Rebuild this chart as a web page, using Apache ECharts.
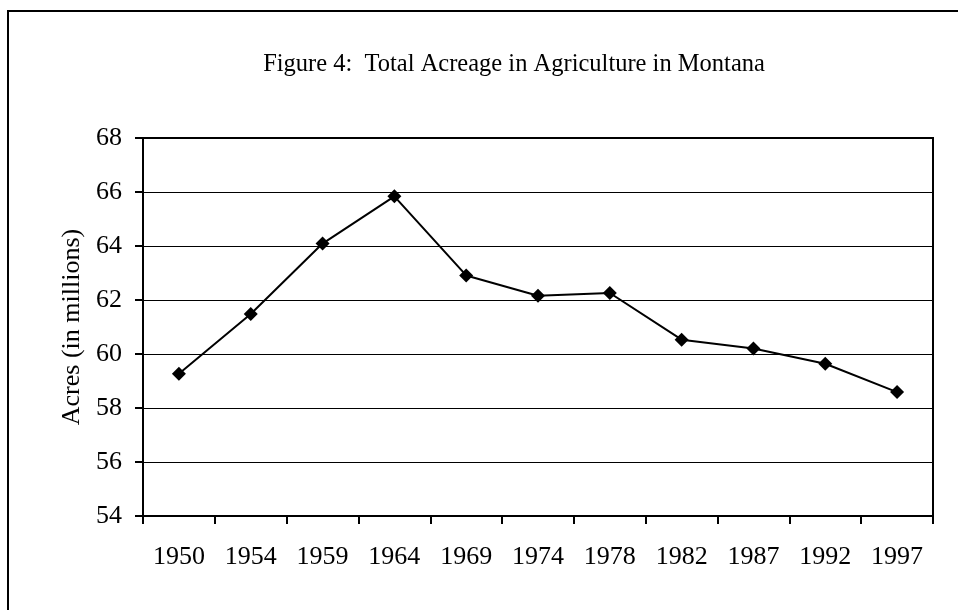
<!DOCTYPE html>
<html>
<head>
<meta charset="utf-8">
<script src="https://cdn.jsdelivr.net/npm/echarts@6/dist/echarts.min.js"></script>
<style>
  html, body { margin: 0; padding: 0; background: #fff; }
  #chart { width: 958px; height: 610px; }
</style>
</head>
<body>
<div id="chart"></div>
<script>
// Census years and farmland totals for Montana (millions of acres)
const years = ['1950', '1954', '1959', '1964', '1969', '1974', '1978', '1982', '1987', '1992', '1997'];
const acres = [59.27, 61.48, 64.09, 65.84, 62.91, 62.16, 62.26, 60.53, 60.20, 59.64, 58.59];
const yMin = 54;
const yMax = 68;
const yStep = 2;

const serif = '"Liberation Serif", "DejaVu Serif", serif';

const chart = echarts.init(document.getElementById('chart'), null, { renderer: 'canvas' });

chart.setOption({
  animation: false,
  backgroundColor: '#ffffff',
  title: {
    text: 'Figure 4:  Total Acreage in Agriculture in Montana',
    left: 509,
    top: 47,
    textAlign: 'center',
    textStyle: { fontFamily: serif, fontSize: 24.5, fontWeight: 'normal', color: '#000' }
  },
  graphic: [{
    type: 'rect',
    shape: { x: 8, y: 11, width: 980, height: 640 },
    style: { fill: 'none', stroke: '#000', lineWidth: 2 },
    silent: true
  }],
  grid: {
    left: 143,
    top: 138,
    right: 25,
    bottom: 94,
    show: true,
    borderColor: '#000',
    borderWidth: 2,
    backgroundColor: 'transparent'
  },
  xAxis: {
    type: 'category',
    data: years,
    boundaryGap: true,
    axisLine: { lineStyle: { color: '#000', width: 2 } },
    axisTick: { show: true, alignWithLabel: false, length: 8, lineStyle: { color: '#000', width: 2 } },
    axisLabel: { color: '#000', fontFamily: serif, fontSize: 26, margin: 28, interval: 0 },
    splitLine: { show: false }
  },
  yAxis: {
    type: 'value',
    min: yMin,
    max: yMax,
    interval: yStep,
    name: 'Acres (in millions)',
    nameLocation: 'middle',
    nameGap: 57,
    nameRotate: 90,
    nameTextStyle: { fontFamily: serif, fontSize: 26, color: '#000' },
    axisLine: { show: true, lineStyle: { color: '#000', width: 2 } },
    axisTick: { show: true, length: 8, lineStyle: { color: '#000', width: 2 } },
    axisLabel: { color: '#000', fontFamily: serif, fontSize: 26, margin: 21 },
    splitLine: { show: true, lineStyle: { color: '#000', width: 1 } }
  },
  series: [{
    type: 'line',
    data: acres,
    symbol: 'diamond',
    symbolSize: 14,
    itemStyle: { color: '#000' },
    lineStyle: { color: '#000', width: 2 }
  }]
});
</script>
</body>
</html>
